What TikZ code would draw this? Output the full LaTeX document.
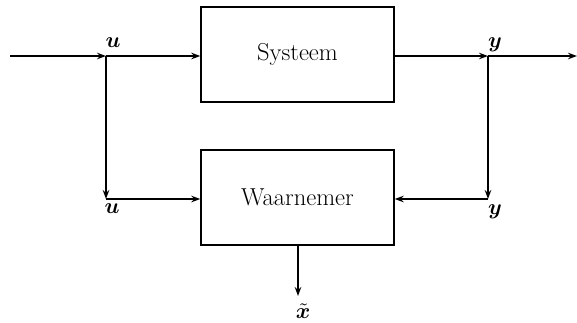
\documentclass[tikz,border=0pt]{standalone}
\usepackage{fontspec}
\usepackage{amsmath,bm}
\usetikzlibrary{arrows.meta}
\begin{document}
\begin{tikzpicture}[x=1pt,y=-1pt, line width=1.4pt,
  >={Stealth[length=9pt,width=6.5pt]},
  blk/.style={draw, minimum width=193pt, minimum height=95pt, inner sep=0pt,
    font=\fontsize{24.5}{28}\selectfont},
  lbl/.style={inner sep=0pt}]
\useasboundingbox (0,0) rectangle (577,322);
\node[blk] (sys) at (297.5,54.5) {Systeem};
\node[blk] (obs) at (297.5,197.5) {Waarnemer};
\coordinate (in) at (10,56);
\coordinate (ju) at (106,56);
\coordinate (jy) at (488,56);
\coordinate (out) at (577,56);
\coordinate (cu) at (106,199);
\coordinate (cy) at (488,199);
\coordinate (xt) at (298,296);
\draw[->] (in) -- (ju);
\draw[->] (ju) -- (ju -| sys.west);
\draw[->] (ju -| sys.east) -- (jy);
\draw[->] (jy) -- (out);
\draw[->] (ju) -- (cu);
\draw[->] (cu) -- (cu -| obs.west);
\draw[->] (jy) -- (cy);
\draw[->] (cy) -- (cy -| obs.east);
\draw[->] (obs.south -| xt) -- (xt);
\node[lbl] (lu1) at (113,43) {\scalebox{2.2}{$\bm{u}$}};
\node[lbl] (lu2) at (112,209) {\scalebox{2.2}{$\bm{u}$}};
\node[lbl] (ly1) at (495,45) {\scalebox{2.2}{$\bm{y}$}};
\node[lbl] (ly2) at (495,212) {\scalebox{2.2}{$\bm{y}$}};
\node[lbl] (lx) at (303,311) {\scalebox{2.2}{$\tilde{\bm{x}}$}};
\end{tikzpicture}
\end{document}
